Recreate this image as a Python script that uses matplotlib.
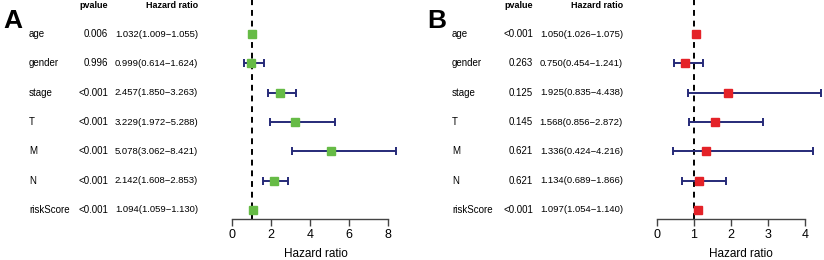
import matplotlib.pyplot as plt
import matplotlib.transforms as mtrans
import numpy as np

plt.rcParams['font.family'] = ['Liberation Sans', 'DejaVu Sans']

variables = ['age', 'gender', 'stage', 'T', 'M', 'N', 'riskScore']

# panel A (univariate)
pval_a = ['0.006', '0.996', '<0.001', '<0.001', '<0.001', '<0.001', '<0.001']
hr_a = [1.032, 0.999, 2.457, 3.229, 5.078, 2.142, 1.094]
low_a = [1.009, 0.614, 1.850, 1.972, 3.062, 1.608, 1.059]
high_a = [1.055, 1.624, 3.263, 5.288, 8.421, 2.853, 1.130]
ticks_a = [0, 2, 4, 6, 8]

# panel B (multivariate)
pval_b = ['<0.001', '0.263', '0.125', '0.145', '0.621', '0.621', '<0.001']
hr_b = [1.050, 0.750, 1.925, 1.568, 1.336, 1.134, 1.097]
low_b = [1.026, 0.454, 0.835, 0.856, 0.424, 0.689, 1.054]
high_b = [1.075, 1.241, 4.438, 2.872, 4.216, 1.866, 1.140]
ticks_b = [0, 1, 2, 3, 4]

W, H = 824, 260
fig = plt.figure(figsize=(W / 100, H / 100), dpi=100)


def panel(letter, x0, scale, xmax_px, pvals, hr, low, high, ticks, color,
          lab_x, p_x, hr_x, let_x):
    # axes from x0 px to xmax_px, bottom at 219 px, top at 0
    ax = fig.add_axes([x0 / W, 1 - 219 / H, (xmax_px - x0) / W, 219 / H])
    ax.set_xlim(0, (xmax_px - x0) / scale)
    row_px = 29.33
    ax.set_ylim(1 - 9 / row_px, 1 + 210 / row_px)
    n = len(variables)
    y = np.arange(n, 0, -1)
    hr = np.array(hr)
    xerr = [hr - np.array(low), np.array(high) - hr]
    ax.axvline(1, color='black', ls=(0, (3, 2.5)), lw=1.4, zorder=1)
    ax.errorbar(hr, y, xerr=xerr, fmt='none', ecolor='#262a78',
                elinewidth=1.4, capsize=3, capthick=1.4, zorder=2)
    ax.plot(hr, y, 's', color=color, ms=6, mec=color, zorder=3)
    for s in ['top', 'right', 'left']:
        ax.spines[s].set_visible(False)
    ax.spines['bottom'].set_bounds(ticks[0], ticks[-1])
    ax.spines['bottom'].set_color('#444444')
    ax.spines['bottom'].set_linewidth(1.0)
    ax.set_yticks([])
    ax.set_xticks(ticks)
    ax.tick_params(axis='x', length=5, width=1.0, color='#444444',
                   labelsize=9, pad=2)
    ax.set_xlabel('Hazard ratio', fontsize=8.5, labelpad=5)
    ax.patch.set_alpha(0)

    tr = mtrans.blended_transform_factory(fig.transFigure, ax.transData)
    for i, v in enumerate(variables):
        ax.text(lab_x / W, y[i], v, transform=tr, ha='left', va='center',
                fontsize=7, clip_on=False)
        ax.text(p_x / W, y[i], pvals[i], transform=tr, ha='right',
                va='center', fontsize=7, clip_on=False)
        ax.text(hr_x / W, y[i], '%.3f(%.3f\u2212%.3f)' % (hr[i], low[i], high[i]),
                transform=tr, ha='right', va='center', fontsize=6.8,
                clip_on=False)
    hy = 1 + (210 - 6) / row_px
    ax.text(p_x / W, hy, 'pvalue', transform=tr, ha='right', va='center',
            fontsize=6.5, fontweight='bold', clip_on=False)
    ax.text(hr_x / W, hy, 'Hazard ratio', transform=tr, ha='right',
            va='center', fontsize=6.5, fontweight='bold', clip_on=False)
    fig.text(let_x / W, 1 - 21 / H, letter, fontsize=19, fontweight='bold',
             ha='left', va='center')
    return ax


panel('A', 232, 19.5, 400, pval_a, hr_a, low_a, high_a, ticks_a, '#66bb46',
      29, 108, 198, 3)
panel('B', 657, 37.0, 824, pval_b, hr_b, low_b, high_b, ticks_b, '#e42228',
      452, 533, 623, 427)

fig.savefig('out.png', dpi=100)
